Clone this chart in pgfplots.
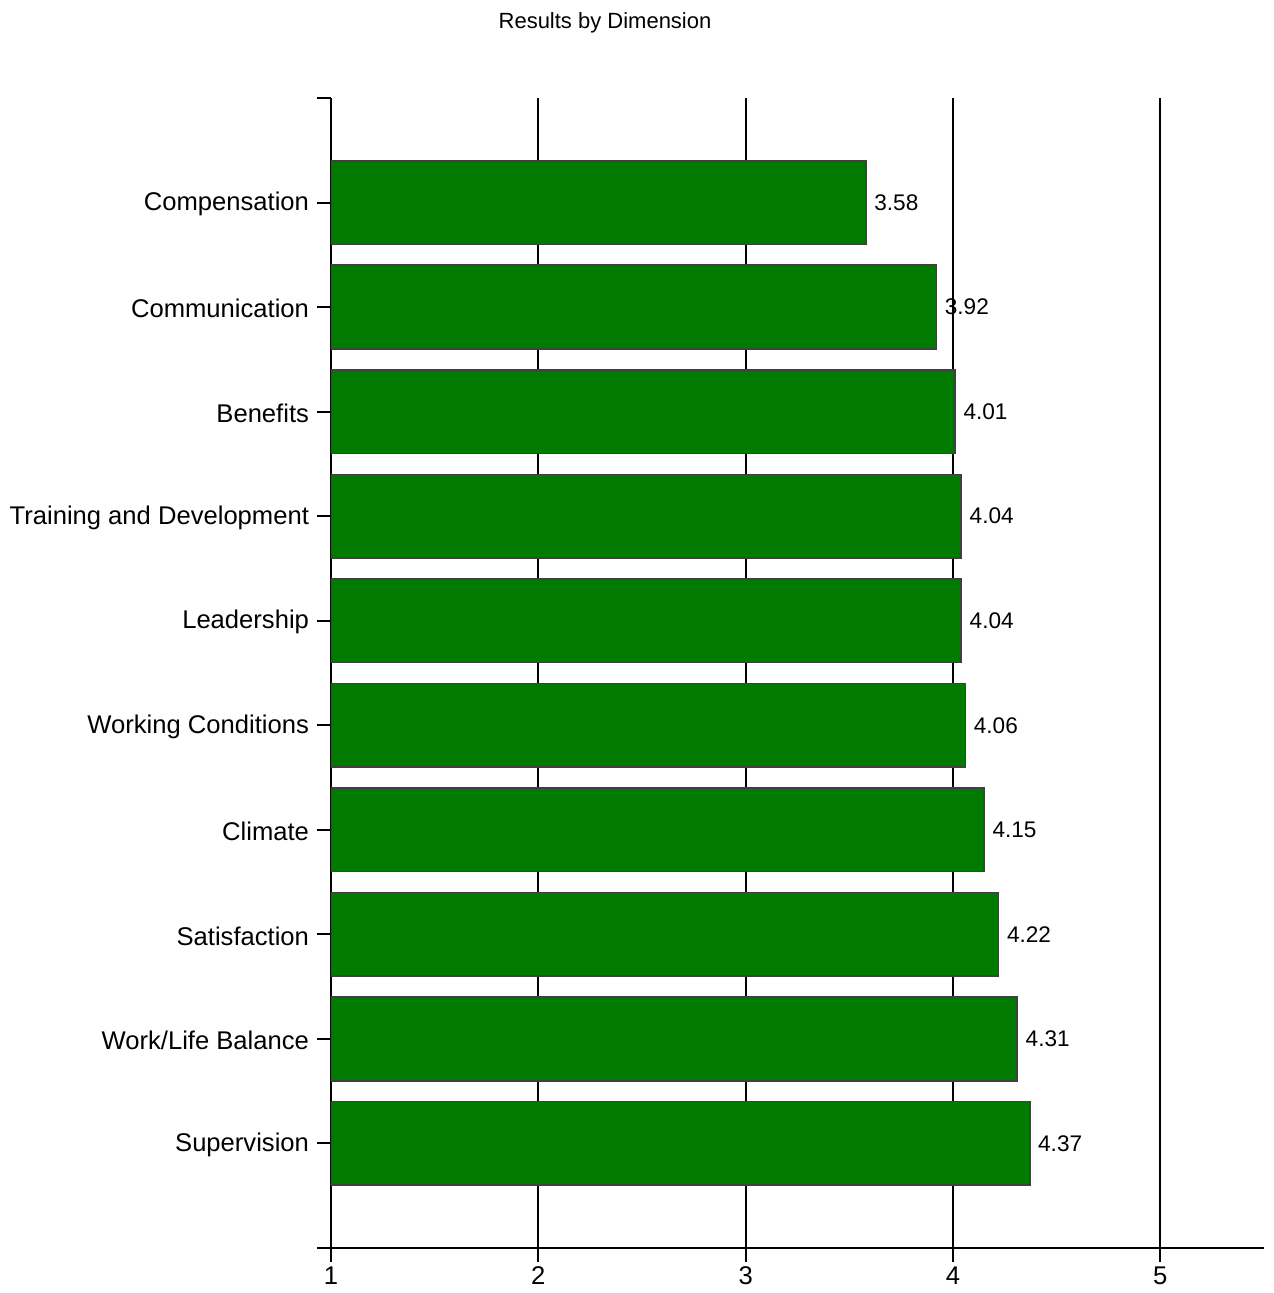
\documentclass[border=0pt]{standalone}
\usepackage{pgfplots}
\pgfplotsset{compat=1.18}
\usepackage{fontspec}
\setmainfont{Liberation Sans}
\definecolor{bargreen}{RGB}{0,122,0}
\definecolor{barborder}{RGB}{64,64,64}
\begin{document}
\begin{tikzpicture}
\path[use as bounding box] (-165.5bp,-22.5bp) rectangle (471.5bp,624bp);
\begin{axis}[
  name=ax,
  at={(0,0)}, anchor=south west,
  scale only axis,
  width=466.5bp, height=575bp,
  xmin=1, xmax=5.5, ymin=0, ymax=11,
  xbar, bar width=0.8,
  axis x line=bottom, axis y line=left,
  axis line style={-, line width=1bp, black},
  xtick={1,2,3,4,5},
  ytick={0,...,11},
  yticklabels={,Supervision,Work/Life Balance,Satisfaction,Climate,Working Conditions,Leadership,Training and Development,Benefits,Communication,Compensation,},
  tick align=outside,
  major tick length=7bp,
  tick style={line width=1bp, black},
  xmajorgrids,
  major grid style={line width=1bp, black},
  /pgf/number format/assume math mode=true,
  tick label style={font=\fontsize{12.8bp}{14bp}\selectfont},
  yticklabel style={xshift=-0.5bp, yshift=-0.8bp},
  xticklabel style={yshift=1bp},
  point meta=explicit,
  nodes near coords={\pgfmathprintnumber[fixed,fixed zerofill,precision=2,assume math mode=true]{\pgfplotspointmeta}},
  nodes near coords align={horizontal},
  every node near coord/.append style={font=\fontsize{11.3bp}{13bp}\selectfont, xshift=0.5bp},
  title={Results by Dimension},
  title style={font=\fontsize{11bp}{13bp}\selectfont, at={(axis description cs:0.2937,1.0665)}, anchor=center, yshift=-6.5bp},
  clip=true,
]
\addplot[fill=bargreen, draw=barborder, line width=0.8bp] coordinates {
  (4.37,1) [4.37] (4.31,2) [4.31] (4.22,3) [4.22] (4.15,4) [4.15] (4.06,5) [4.06] (4.04,6) [4.04] (4.04,7) [4.04] (4.01,8) [4.01] (3.92,9) [3.92] (3.58,10) [3.58]
};
\end{axis}
\end{tikzpicture}
\end{document}
